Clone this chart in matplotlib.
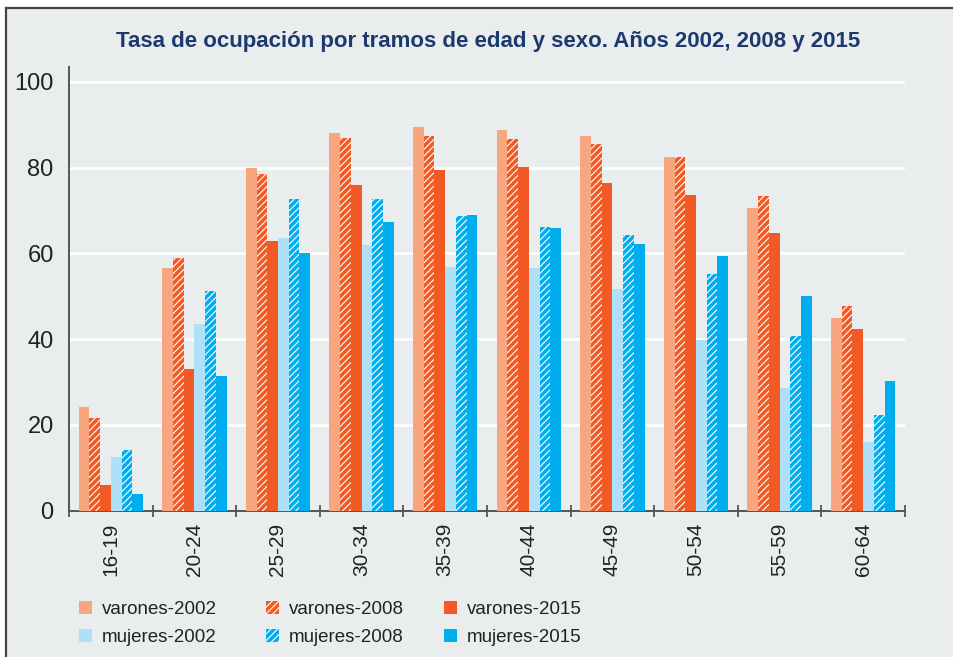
import matplotlib as mpl
mpl.use("Agg")
import matplotlib.pyplot as plt
from matplotlib.patches import Rectangle, Patch

# age brackets
GROUPS = ["16-19", "20-24", "25-29", "30-34", "35-39",
          "40-44", "45-49", "50-54", "55-59", "60-64"]
VARONES_2002 = [24.2, 56.7, 79.9, 88.0, 89.6, 88.7, 87.5, 82.5, 70.5, 44.9]
VARONES_2008 = [21.6, 58.9, 78.5, 87.0, 87.3, 86.8, 85.6, 82.5, 73.5, 47.8]
VARONES_2015 = [5.9, 33.0, 63.0, 76.0, 79.4, 80.1, 76.4, 73.7, 64.8, 42.4]
MUJERES_2002 = [12.4, 43.5, 63.5, 61.9, 56.9, 56.5, 51.7, 39.7, 28.5, 15.9]
MUJERES_2008 = [14.2, 51.2, 72.8, 72.6, 68.7, 66.2, 64.2, 55.1, 40.8, 22.3]
MUJERES_2015 = [3.8, 31.3, 60.2, 67.3, 68.9, 66.0, 62.3, 59.4, 50.1, 30.2]

SERIES = [
    ("varones-2002", VARONES_2002, "#F8A67F", None),
    ("varones-2008", VARONES_2008, "#F05A25", "/////"),
    ("varones-2015", VARONES_2015, "#F15A24", None),
    ("mujeres-2002", MUJERES_2002, "#AEE1F8", None),
    ("mujeres-2008", MUJERES_2008, "#00AEEF", "/////"),
    ("mujeres-2015", MUJERES_2015, "#00AEEF", None),
]

BG = "#E9EDEE"
AXIS = "#555555"

mpl.rcParams.update({
    "font.family": ["Liberation Sans", "DejaVu Sans"],
    "hatch.color": "white",
    "hatch.linewidth": 0.8,
})

fig = plt.figure(figsize=(9.54, 6.57), dpi=100)
fig.patch.set_facecolor("white")
# framed panel background, behind everything
fig.add_artist(Rectangle((6.5 / 954, -0.01), 1.0, (657 - 7.5) / 657 + 0.01,
                         transform=fig.transFigure, facecolor=BG,
                         edgecolor="none", zorder=-10))
fig.add_artist(plt.Line2D([6.5 / 954, 6.5 / 954], [0, (657 - 7.5) / 657],
                          transform=fig.transFigure, color="#444444", lw=1.6, zorder=-5))
fig.add_artist(plt.Line2D([6.5 / 954, 1.0], [(657 - 7.5) / 657] * 2,
                          transform=fig.transFigure, color="#444444", lw=1.6, zorder=-5))

ax = fig.add_axes([69 / 954, (657 - 510.5) / 657, (905 - 69) / 954, (510.5 - 67) / 657])
ax.set_zorder(1)
ax.set_facecolor(BG)

w = 0.128
handles = []
for j, (name, vals, color, hatch) in enumerate(SERIES):
    xs = [i + (j - 2.5) * w for i in range(len(GROUPS))]
    if hatch:
        ax.bar(xs, vals, width=w, color=color, hatch=hatch,
               edgecolor="white", linewidth=0, zorder=3)
        handles.append(Patch(facecolor=color, hatch=hatch, edgecolor="white",
                             linewidth=0, label=name))
    else:
        ax.bar(xs, vals, width=w, color=color, linewidth=0, zorder=3)
        handles.append(Patch(facecolor=color, linewidth=0, label=name))

ax.set_xlim(-0.5, len(GROUPS) - 0.5)
ax.set_ylim(0, 103.5)
ax.set_yticks([0, 20, 40, 60, 80, 100])
ax.yaxis.grid(True, color="white", lw=2.0, zorder=1)
ax.set_axisbelow(True)
ax.tick_params(axis="y", length=0, pad=11, labelsize=17, labelcolor="#222222")

ax.set_xticks(range(len(GROUPS)))
ax.set_xticklabels(GROUPS, rotation=90, fontsize=15, color="#222222")
ax.tick_params(axis="x", which="major", length=0, pad=9)
ax.set_xticks([i - 0.5 for i in range(len(GROUPS) + 1)], minor=True)
ax.tick_params(axis="x", which="minor", direction="inout", length=9,
               width=1.3, color=AXIS)

for s in ("top", "right"):
    ax.spines[s].set_visible(False)
for s in ("left", "bottom"):
    ax.spines[s].set_color(AXIS)
    ax.spines[s].set_linewidth(1.4)

fig.text(488 / 954, 1 - 41 / 657,
         "Tasa de ocupación por tramos de edad y sexo. Años 2002, 2008 y 2015",
         ha="center", va="center", fontsize=16, fontweight="bold",
         color="#1D3A6F")

# one small legend per column (varones above, mujeres below)
for col, x0 in enumerate([62, 249, 427]):
    pair = [handles[col], handles[col + 3]]
    leg = fig.legend(pair, [h.get_label() for h in pair],
                     loc="upper left", bbox_to_anchor=(x0 / 954, 1 - 584 / 657),
                     frameon=False, fontsize=13.5, handlelength=0.68,
                     handleheight=0.68, handletextpad=0.55, labelspacing=0.61)
    for t in leg.get_texts():
        t.set_color("#222222")

fig.savefig("out.png", dpi=100, facecolor=fig.get_facecolor())
